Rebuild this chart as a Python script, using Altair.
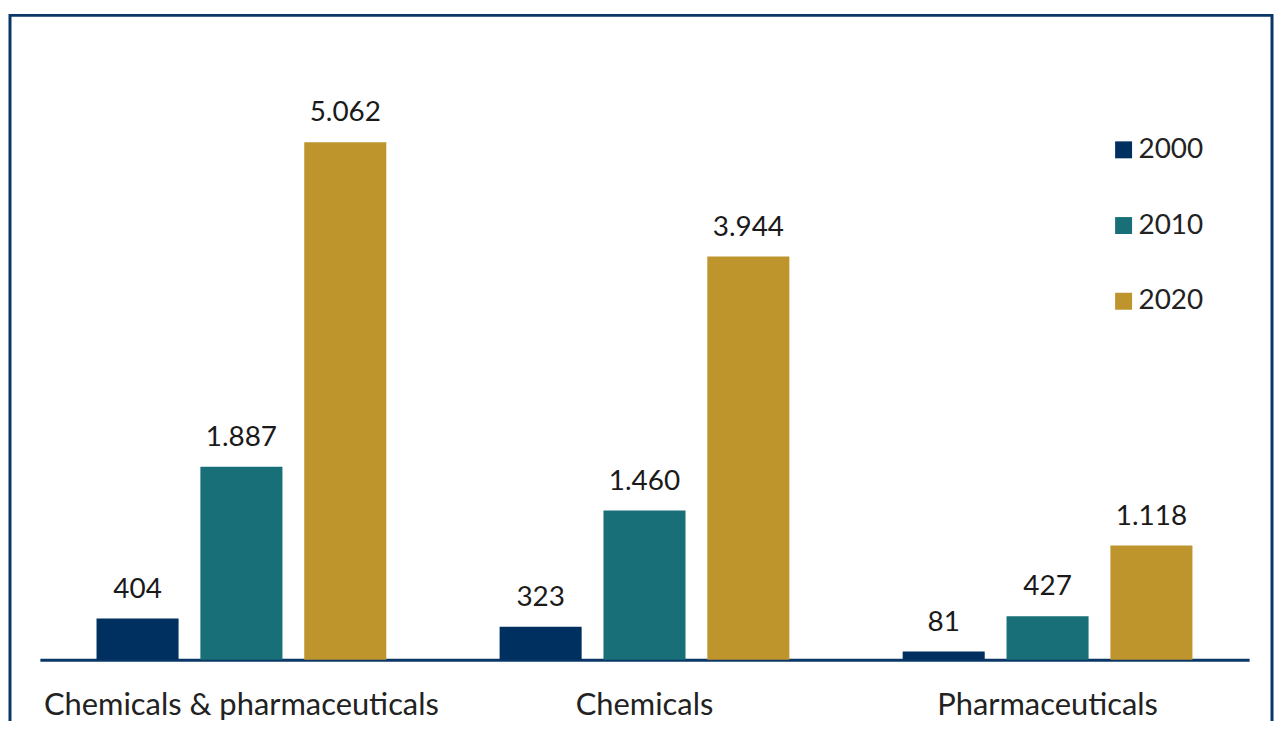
import altair as alt
import pandas as pd

categories = ["Chemicals & pharmaceuticals", "Chemicals", "Pharmaceuticals"]
years = ["2000", "2010", "2020"]
values_2000 = [404, 323, 81]
values_2010 = [1887, 1460, 427]
values_2020 = [5062, 3944, 1118]
colors = ["#00305f", "#196f77", "#be952d"]

rows = []
for yr, vals in zip(years, [values_2000, values_2010, values_2020]):
    for cat, v in zip(categories, vals):
        rows.append({"category": cat, "year": yr, "value": v,
                     "label": f"{v:,}".replace(",", ".")})
df = pd.DataFrame(rows)

FONT = "Lato"

x = alt.X("category:N", sort=categories, title=None,
          scale=alt.Scale(paddingInner=0.227, paddingOuter=0.1135),
          axis=alt.Axis(labelAngle=0, ticks=False, domainColor="#0b3768",
                        domainWidth=3, labelFontSize=31, labelColor="#222222",
                        labelFont=FONT, labelPadding=31, labelLimit=0,
                        labelFontWeight="normal"))
y = alt.Y("value:Q", scale=alt.Scale(domain=[0, 6000]), axis=None)
xo = alt.XOffset("year:N", sort=years, scale=alt.Scale(paddingInner=0.21, paddingOuter=0.105))

bars = alt.Chart(df).mark_bar().encode(
    x=x, y=y, xOffset=xo,
    color=alt.Color("year:N", sort=years, title=None,
                    scale=alt.Scale(domain=years, range=colors),
                    legend=alt.Legend(orient="none", legendX=1074, legendY=90,
                                      symbolType="square", symbolSize=290,
                                      symbolStrokeWidth=0, labelFontSize=28,
                                      labelFont=FONT, labelColor="#222222",
                                      rowPadding=48, labelOffset=1)),
)

labels = alt.Chart(df).mark_text(dy=-29, fontSize=28, font=FONT, color="#1a1a1a").encode(
    x=x, y=y, xOffset=xo, text="label:N"
)

frame = alt.Chart(pd.DataFrame({"a": [0]})).mark_rect(
    fill=None, stroke="#0b3768", strokeWidth=3, clip=False
).encode(x=alt.value(-30), x2=alt.value(1237), y=alt.value(-31), y2=alt.value(700))

chart = alt.layer(frame, bars, labels).properties(
    width=1214, height=616,
    autosize=alt.AutoSizeParams(type="none"),
    padding={"left": 32, "top": 37, "right": 25, "bottom": 60},
).configure_view(stroke=None)

chart.save("out.html", embed_options={"renderer": "svg", "actions": False})
